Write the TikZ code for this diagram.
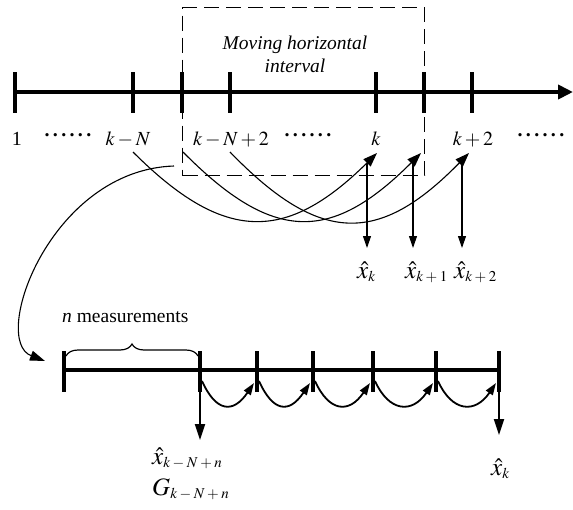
\documentclass[tikz,border=0pt]{standalone}
\usepackage{mathptmx}
\usepackage{fontspec}
\setmainfont{Liberation Serif}
\DeclareMathSizes{22}{25}{15}{12}
\usetikzlibrary{arrows.meta,decorations.pathreplacing}
\newcommand{\bsp}{\mskip3mu}
\begin{document}
\begin{tikzpicture}[x=1pt,y=-1pt,
  axisline/.style={line width=4pt},
  tickmark/.style={fill=black, draw=none, inner sep=0pt, minimum width=3.8pt, minimum height=41pt},
  lbl/.style={inner sep=0pt, anchor=base, font=\fontsize{20}{24}\selectfont},
  dotlbl/.style={inner sep=0pt, anchor=base, font=\fontsize{20}{24}\selectfont\bfseries},
  hatlbl/.style={inner sep=0pt, anchor=base west, font=\fontsize{22}{26}\selectfont},
  arcarrow/.style={line width=1.1pt, -{Triangle[length=14pt,width=10pt]}},
  vdown/.style={line width=1.1pt, -{Triangle[length=12pt,width=8pt]}},
  hop/.style={line width=1.8pt, -{Triangle[length=12pt,width=8pt]}},
  bdown/.style={line width=2pt, -{Triangle[length=16pt,width=10pt]}},
  winbox/.style={draw, line width=1.1pt, dash pattern=on 15pt off 7pt, inner sep=0pt, minimum width=242pt, minimum height=168pt, anchor=north west},
]
\useasboundingbox (0,0) rectangle (573,509);

% moving window
\node[winbox] (win) at (182,7) {};
\node[inner sep=0pt, align=center, font=\fontsize{19.5}{23}\selectfont\itshape] (wtext) at (295,54) {Moving horizontal\\interval};

% top axis
\coordinate (a0) at (15,92);
\coordinate (aend) at (573,92);
\draw[axisline, -{Triangle[length=15pt,width=14pt]}] (a0) -- (aend);
\foreach \n/\x in {t1/15, tkN/133, tkNa/182, tkNb/230, tk/376, tka/424, tkb/472}
  \node[tickmark] (\n) at (\x,92.5) {};

% top labels
\node[lbl] (l1) at (17,145) {1};
\node[dotlbl] (d1) at (68,136) {.\,.\,.\,.\,.\,.};
\node[lbl] (lkN) at (128,145) {$k-N$};
\node[lbl] (lkN2) at (231,145) {$k-N+2$};
\node[dotlbl] (d2) at (308,136) {.\,.\,.\,.\,.\,.};
\node[lbl] (lk) at (376,145) {$k$};
\node[lbl] (lk2) at (473,145) {$k+2$};
\node[dotlbl] (d3) at (541,136) {.\,.\,.\,.\,.\,.};

% curved arrows
\coordinate (s1) at (133,152); \coordinate (e1) at (377,153);
\coordinate (s2) at (183,152); \coordinate (e2) at (421,153);
\coordinate (s3) at (230,152); \coordinate (e3) at (469,153);
\draw[arcarrow] (s1) .. controls (224,243) and (286,243) .. (e1);
\draw[arcarrow] (s2) .. controls (273,243) and (331,243) .. (e2);
\draw[arcarrow] (s3) .. controls (320,245) and (379,245) .. (e3);

% estimates
\coordinate (v1) at (367,163); \coordinate (w1) at (367,248);
\coordinate (v2) at (413,163); \coordinate (w2) at (413,248);
\coordinate (v3) at (462,163); \coordinate (w3) at (462,248);
\draw[vdown] (v1) -- (w1);
\draw[vdown] (v2) -- (w2);
\draw[vdown] (v3) -- (w3);
\node[hatlbl] (xk) at (357,278) {$\hat{x}_k$};
\node[hatlbl] (xk1) at (405,278) {$\hat{x}_{k\bsp+\bsp1}$};
\node[hatlbl] (xk2) at (454,278) {$\hat{x}_{k\bsp+\bsp2}$};

% long curve to the zoomed interval
\coordinate (ls) at (174,166); \coordinate (le) at (45,361);
\draw[line width=1.1pt, -{Triangle[length=15pt,width=10pt]}] (ls) .. controls (50,170) and (-10,340) .. (le);

% bottom axis
\coordinate (b0) at (64,370); \coordinate (bend) at (499,370);
\draw[axisline] (b0) -- (bend);
\foreach \n/\x in {bt0/64, bt1/200, bt2/257, bt3/313, bt4/373, bt5/436, bt6/499}
  \node[tickmark] (\n) at (\x,371.5) {};

\draw[decorate, decoration={brace, amplitude=12pt}, line width=1.2pt] (66,356) -- (198,356);
\node[inner sep=0pt, anchor=base west, font=\fontsize{19.5}{23}\selectfont] (nm) at (62,322) {\textit{n} measurements};

\foreach \a/\b [count=\i] in {200/257, 257/313, 313/373, 373/436, 436/499}{
  \coordinate (hs\i) at (\a+2,381);
  \coordinate (he\i) at (\b-3,383);
  \draw[hop] (hs\i) .. controls (\a+16,412) and (\b-24,414) .. (he\i);
}

\coordinate (bx1) at (200,440);
\coordinate (bx2) at (499,435);
\draw[bdown] (bt1.center) -- (bx1);
\draw[bdown] (bt6.center) -- (bx2);
\node[hatlbl] (xkn) at (152,464) {$\hat{x}_{k\bsp-\bsp N\bsp+\bsp n}$};
\node[hatlbl] (gkn) at (152,495) {$G_{k\bsp-\bsp N\bsp+\bsp n}$};
\node[hatlbl] (xkb) at (491,475) {$\hat{x}_k$};
\end{tikzpicture}
\end{document}
